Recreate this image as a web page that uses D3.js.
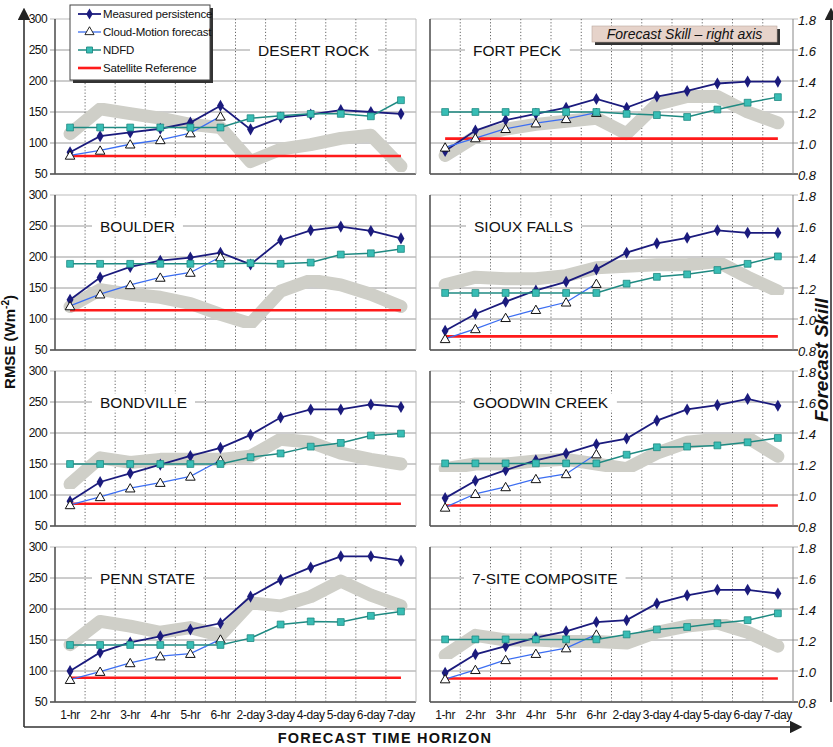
<!DOCTYPE html>
<html>
<head>
<meta charset="utf-8">
<script src="https://cdn.jsdelivr.net/npm/d3@7"></script>
<style>
  body { margin: 0; background: #fff; }
  svg { display: block; font-family: Arial, "Liberation Sans", sans-serif; }
</style>
</head>
<body>
<svg id="chart" width="833" height="747"></svg>
<script>
// Forecast horizons (x categories)
const horizons = ["1-hr", "2-hr", "3-hr", "4-hr", "5-hr", "6-hr",
                  "2-day", "3-day", "4-day", "5-day", "6-day", "7-day"];

const sites = ["DESERT ROCK", "FORT PECK", "BOULDER", "SIOUX FALLS",
               "BONDVILLE", "GOODWIN CREEK", "PENN STATE", "7-SITE COMPOSITE"];

const rmseTicks = [50, 100, 150, 200, 250, 300];
const skillTicks = [0.8, 1.0, 1.2, 1.4, 1.6, 1.8];

// RMSE (W m-2), one row per site
const measuredPersistence = [
  [85, 111, 117, 123, 133, 160, 122, 141, 146, 153, 150, 147],
  [87, 120, 137, 147, 157, 171, 157, 175, 184, 196, 199, 199],
  [131, 167, 184, 194, 199, 207, 188, 227, 243, 249, 242, 230],
  [81, 108, 128, 146, 160, 180, 207, 222, 231, 243, 239, 239],
  [90, 121, 135, 149, 163, 176, 197, 225, 238, 238, 246, 242],
  [95, 123, 140, 156, 167, 182, 191, 220, 238, 245, 255, 244],
  [100, 130, 146, 156, 167, 177, 220, 247, 267, 285, 285, 278],
  [97, 127, 140, 154, 164, 179, 182, 209, 222, 231, 231, 225]
];

// Cloud-motion forecasts only cover 1-hr to 6-hr
const cloudMotion = [
  [80, 88, 98, 105, 116, 143],
  [93, 108, 123, 132, 139, 149],
  [121, 140, 155, 167, 175, 200],
  [68, 84, 102, 115, 127, 157],
  [84, 97, 111, 120, 130, 156],
  [80, 102, 113, 126, 134, 166],
  [86, 99, 113, 124, 128, 151],
  [87, 102, 118, 128, 137, 159]
];

const ndfd = [
  [125, 125, 125, 125, 125, 125, 140, 144, 147, 147, 143, 169],
  [150, 150, 150, 150, 150, 150, 147, 145, 142, 154, 165, 174],
  [189, 189, 189, 189, 189, 189, 190, 189, 191, 204, 206, 213],
  [142, 142, 142, 142, 142, 142, 157, 168, 172, 179, 189, 201],
  [150, 150, 150, 150, 150, 150, 161, 167, 178, 184, 196, 199],
  [151, 151, 151, 151, 151, 151, 165, 177, 178, 180, 185, 192],
  [142, 142, 142, 142, 142, 142, 153, 175, 180, 179, 189, 196],
  [151, 151, 151, 151, 151, 151, 159, 167, 171, 177, 182, 193]
];

const satelliteReference = [79, 107, 114, 72, 86, 83, 89, 88];

// Forecast skill (right axis)
const forecastSkill = [
  [1.06, 1.22, 1.19, 1.16, 1.12, 1.10, 0.88, 0.96, 0.99, 1.03, 1.05, 0.85],
  [0.92, 1.04, 1.09, 1.12, 1.14, 1.16, 1.06, 1.25, 1.30, 1.30, 1.20, 1.13],
  [1.08, 1.19, 1.16, 1.14, 1.10, 1.03, 0.97, 1.18, 1.25, 1.22, 1.16, 1.08],
  [1.22, 1.27, 1.26, 1.26, 1.28, 1.33, 1.34, 1.35, 1.35, 1.37, 1.27, 1.18],
  [1.07, 1.24, 1.21, 1.23, 1.23, 1.23, 1.25, 1.36, 1.34, 1.27, 1.23, 1.20],
  [1.17, 1.20, 1.20, 1.22, 1.23, 1.20, 1.17, 1.27, 1.34, 1.36, 1.37, 1.25],
  [1.17, 1.32, 1.29, 1.25, 1.28, 1.23, 1.44, 1.42, 1.48, 1.58, 1.49, 1.42],
  [1.10, 1.23, 1.20, 1.20, 1.19, 1.19, 1.18, 1.25, 1.29, 1.31, 1.25, 1.16]
];

// ---------------------------------------------------------------------------
const svg = d3.select("#chart");

const colX = [[55, 416], [430, 793]];
const rowTop = [19, 195, 371, 547];
const plotH = 155;
const titleOffset = [203, 43, 45, 44, 45, 43, 45, 42];

const C = {
  measured: "#1b1b7d",
  cloud: "#3c6ef2",
  ndfdLine: "#1f8a82",
  ndfdFill: "#38bdb5",
  sat: "#ff1a1a",
  band: "#cfcfc8",
  grid: "#9a9a9a",
  axis: "#555"
};

const defs = svg.append("defs");
defs.append("filter").attr("id", "soft")
  .append("feGaussianBlur").attr("stdDeviation", 0.6);
defs.append("marker").attr("id", "arrow")
  .attr("viewBox", "0 0 10 10").attr("refX", 5).attr("refY", 5)
  .attr("markerWidth", 8).attr("markerHeight", 8).attr("orient", "auto")
  .append("path").attr("d", "M0,0 L10,5 L0,10 z").attr("fill", "#222");

sites.forEach((site, i) => {
  const col = i % 2, row = Math.floor(i / 2);
  const [x0, x1] = colX[col];
  const top = rowTop[row], bottom = top + plotH;
  const g = svg.append("g");

  const x = d3.scaleBand().domain(horizons).range([x0, x1]);
  const cx = d => x(d) + x.bandwidth() / 2;
  const y = d3.scaleLinear().domain([50, 300]).range([bottom, top]);
  const ys = d3.scaleLinear().domain([0.8, 1.8]).range([bottom, top]);

  // horizontal gridlines
  g.append("g").selectAll("line").data(rmseTicks).join("line")
    .attr("x1", col === 0 ? x0 - 5 : x0).attr("x2", col === 1 ? x1 + 5 : x1)
    .attr("y1", d => y(d)).attr("y2", d => y(d))
    .attr("stroke", d => d === 50 ? "#444" : (d === 300 ? "#bbb" : C.grid))
    .attr("stroke-width", d => d === 50 ? 1.4 : 1);

  // dotted vertical separators between horizons
  g.append("g").selectAll("line").data(horizons.slice(1)).join("line")
    .attr("x1", d => x(d)).attr("x2", d => x(d))
    .attr("y1", top).attr("y2", bottom)
    .attr("stroke", "#666").attr("stroke-dasharray", "1.2,2").attr("stroke-width", 1);

  // plot frame
  g.append("line").attr("x1", x0).attr("x2", x0).attr("y1", top).attr("y2", bottom)
    .attr("stroke", C.axis).attr("stroke-width", 1.6);
  g.append("line").attr("x1", x1).attr("x2", x1).attr("y1", top).attr("y2", bottom)
    .attr("stroke", col === 1 ? "#888" : "#bbb").attr("stroke-width", 1);

  // axis labels
  if (col === 0) {
    const ax = g.append("g").attr("transform", `translate(${x0 - 5},0)`)
      .call(d3.axisLeft(y).tickValues(rmseTicks).tickSize(0).tickPadding(3));
    ax.select(".domain").remove();
    ax.selectAll("text").attr("font-size", 12).attr("fill", "#111")
      .attr("font-family", "Arial, 'Liberation Sans', sans-serif")
      .attr("letter-spacing", "-0.6px");
  } else {
    const ax = g.append("g").attr("transform", `translate(${x1 + 5},0)`)
      .call(d3.axisRight(ys).tickValues(skillTicks).tickFormat(d3.format(".1f")).tickSize(0).tickPadding(0));
    ax.select(".domain").remove();
    ax.selectAll("text").attr("font-size", 13).attr("font-style", "italic").attr("fill", "#111")
      .attr("font-family", "Arial, 'Liberation Sans', sans-serif").attr("dy", "0.45em");
  }
  if (row === 3) {
    const bx = g.append("g").attr("transform", `translate(0,${bottom})`)
      .call(d3.axisBottom(x).tickSize(0).tickPadding(8));
    bx.select(".domain").remove();
    bx.selectAll("text").attr("font-size", 12).attr("fill", "#111")
      .attr("font-family", "Arial, 'Liberation Sans', sans-serif")
      .attr("letter-spacing", "-0.4px");
  }

  // site title with white backing over the gridline
  const tg = g.append("g");
  const tt = tg.append("text").text(site)
    .attr("x", x0 + titleOffset[i]).attr("y", y(250)).attr("dy", "0.36em")
    .attr("font-size", 15.5).attr("fill", "#111");
  const bb = tt.node().getBBox();
  tg.insert("rect", "text").attr("x", bb.x - 8).attr("y", bb.y).attr("width", bb.width + 16)
    .attr("height", bb.height).attr("fill", "#fff");

  // forecast skill band
  g.append("path").datum(forecastSkill[i])
    .attr("d", d3.line().x((d, k) => cx(horizons[k])).y(d => ys(d)))
    .attr("fill", "none").attr("stroke", C.band).attr("stroke-width", 13)
    .attr("stroke-linejoin", "round").attr("stroke-linecap", "round")
    .attr("filter", "url(#soft)");

  // satellite reference
  g.append("line")
    .attr("x1", cx(horizons[0])).attr("x2", cx(horizons[horizons.length - 1]))
    .attr("y1", y(satelliteReference[i])).attr("y2", y(satelliteReference[i]))
    .attr("stroke", C.sat).attr("stroke-width", 2.6);

  const lineGen = d3.line().x((d, k) => cx(horizons[k])).y(d => y(d));

  // measured persistence
  g.append("path").datum(measuredPersistence[i]).attr("d", lineGen)
    .attr("fill", "none").attr("stroke", C.measured).attr("stroke-width", 1.8);
  g.append("g").selectAll("path").data(measuredPersistence[i]).join("path")
    .attr("d", d3.symbol(d3.symbolDiamond, 42))
    .attr("transform", (d, k) => `translate(${cx(horizons[k])},${y(d)})`)
    .attr("fill", C.measured);

  // cloud-motion forecast
  g.append("path").datum(cloudMotion[i]).attr("d", lineGen)
    .attr("fill", "none").attr("stroke", C.cloud).attr("stroke-width", 1.3);
  g.append("g").selectAll("path").data(cloudMotion[i]).join("path")
    .attr("d", d3.symbol(d3.symbolTriangle, 40))
    .attr("transform", (d, k) => `translate(${cx(horizons[k])},${y(d) + 1})`)
    .attr("fill", "#fff").attr("stroke", "#111").attr("stroke-width", 1);

  // NDFD
  g.append("path").datum(ndfd[i]).attr("d", lineGen)
    .attr("fill", "none").attr("stroke", C.ndfdLine).attr("stroke-width", 1.5);
  g.append("g").selectAll("path").data(ndfd[i]).join("path")
    .attr("d", d3.symbol(d3.symbolSquare, 46))
    .attr("transform", (d, k) => `translate(${cx(horizons[k])},${y(d)})`)
    .attr("fill", C.ndfdFill).attr("stroke", C.ndfdLine).attr("stroke-width", 0.8);
});

// outer axes with arrows
const frame = svg.append("g").attr("stroke", "#333").attr("stroke-width", 1.6).attr("fill", "none");
frame.append("line").attr("x1", 24).attr("y1", 727).attr("x2", 24).attr("y2", 14).attr("marker-end", "url(#arrow)");
frame.append("line").attr("x1", 24).attr("y1", 727).attr("x2", 796).attr("y2", 727).attr("marker-end", "url(#arrow)");
frame.append("line").attr("x1", 831).attr("y1", 702).attr("x2", 831).attr("y2", 14).attr("marker-end", "url(#arrow)");

// legend
const lg = svg.append("g");
lg.append("rect").attr("x", 73).attr("y", 8).attr("width", 140).attr("height", 75).attr("fill", "#333");
lg.append("rect").attr("x", 70).attr("y", 5).attr("width", 140).attr("height", 75)
  .attr("fill", "#fff").attr("stroke", "#444").attr("stroke-width", 1);
const legendItems = [
  { label: "Measured persistence", color: C.measured, sym: d3.symbolDiamond, fill: C.measured, stroke: "none", w: 1.8 },
  { label: "Cloud-Motion forecast", color: C.cloud, sym: d3.symbolTriangle, fill: "#fff", stroke: "#111", w: 1.3 },
  { label: "NDFD", color: C.ndfdLine, sym: d3.symbolSquare, fill: C.ndfdFill, stroke: C.ndfdLine, w: 1.5 },
  { label: "Satellite Reference", color: C.sat, sym: null, w: 2.6 }
];
legendItems.forEach((it, k) => {
  const yy = 14 + k * 18;
  lg.append("line").attr("x1", 78).attr("x2", 101).attr("y1", yy).attr("y2", yy)
    .attr("stroke", it.color).attr("stroke-width", it.w);
  if (it.sym) {
    lg.append("path").attr("d", d3.symbol(it.sym, 36)).attr("transform", `translate(89.5,${yy})`)
      .attr("fill", it.fill).attr("stroke", it.stroke).attr("stroke-width", 0.9);
  }
  lg.append("text").attr("x", 103).attr("y", yy).attr("dy", "0.35em")
    .attr("font-size", 11.5).attr("fill", "#111").attr("letter-spacing", "-0.2px").text(it.label);
});

// right-axis note
const note = svg.append("g");
note.append("rect").attr("x", 595).attr("y", 29).attr("width", 185).attr("height", 16).attr("fill", "#333");
note.append("rect").attr("x", 592).attr("y", 26).attr("width", 185).attr("height", 16)
  .attr("fill", "#e6d3ca").attr("stroke", "#bba99f").attr("stroke-width", 0.6);
note.append("text").attr("x", 684.5).attr("y", 34).attr("dy", "0.36em").attr("text-anchor", "middle")
  .attr("font-size", 14).attr("font-style", "italic").attr("fill", "#111")
  .text("Forecast Skill \u2013 right axis");

// axis titles
const yt = svg.append("text").attr("transform", "translate(15,342) rotate(-90)")
  .attr("text-anchor", "middle").attr("font-size", 15).attr("font-weight", "bold").attr("fill", "#111");
yt.append("tspan").text("RMSE (Wm");
yt.append("tspan").text("-2").attr("font-size", 10).attr("dy", -6);
yt.append("tspan").text(")").attr("dy", 6);

svg.append("text").attr("transform", "translate(828,360) rotate(-90)")
  .attr("text-anchor", "middle").attr("font-size", 19).attr("font-weight", "bold")
  .attr("font-style", "italic").attr("fill", "#111").text("Forecast Skill");

svg.append("text").attr("x", 385).attr("y", 743).attr("text-anchor", "middle")
  .attr("font-size", 14.5).attr("font-weight", "bold").attr("letter-spacing", "1.2px")
  .attr("fill", "#111").text("FORECAST TIME HORIZON");
</script>
</body>
</html>
